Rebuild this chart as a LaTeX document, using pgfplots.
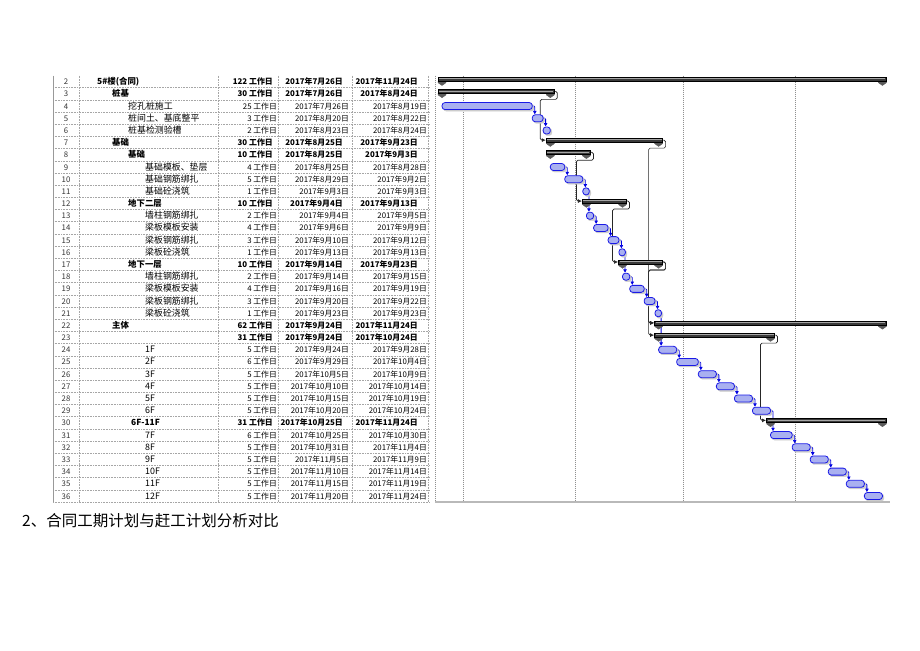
\documentclass[border=0pt]{standalone}
\usepackage{pgfplots}
\pgfplotsset{compat=1.18}
\usepackage{pgfplotstable}
\usetikzlibrary{arrows.meta}
\usepackage{fontspec}
\setmainfont{Noto Sans CJK SC}

\definecolor{taskfill}{HTML}{A9B0F0}
\definecolor{taskline}{HTML}{1A1AE6}
\definecolor{linkblue}{HTML}{0000E0}
\definecolor{sumbar}{HTML}{3A3A3A}
\definecolor{sumtri}{HTML}{5A5A5A}
\definecolor{gridgray}{HTML}{909090}

% day 0 = 2017-07-26 ; start = first day, dur = calendar days
\pgfplotstableread{
row start dur
4 0 25
5 25 3
6 28 2
9 30 4
10 34 5
11 39 1
13 40 2
14 42 4
15 46 3
16 49 1
18 50 2
19 52 4
20 56 3
21 59 1
24 60 5
25 65 6
26 71 5
27 76 5
28 81 5
29 86 5
31 91 6
32 97 5
33 102 5
34 107 5
35 112 5
36 117 5
}\tasks

\pgfplotstableread{
row start dur
2 0 122
3 0 30
7 30 30
8 30 10
12 40 10
17 50 10
22 60 62
23 60 31
30 91 31
}\summ

\def\dayw{3.6098}% bp per day

\tikzset{
  cell/.style={inner sep=0pt, yshift=-3bp},
  regtxt/.style={cell, font=\fontsize{7.8bp}{10bp}\selectfont},
  namtxt/.style={cell, font=\fontsize{8.9bp}{10bp}\selectfont},
  boldtxt/.style={cell, font=\fontsize{7.9bp}{10bp}\selectfont\bfseries},
  boldname/.style={cell, font=\fontsize{8.4bp}{10bp}\selectfont\bfseries},
}

% table rows: id, name x, name, duration, start, finish
\newcommand\trow[6]{%
  \node[regtxt, anchor=base, text=black!80] at (axis cs:66,#1) {#1};
  \node[namtxt, anchor=base west] at (axis cs:#2,#1) {#3};
  \node[regtxt, anchor=base east] at (axis cs:277,#1) {#4 工作日};
  \node[regtxt, anchor=base east] at (axis cs:349,#1) {#5};
  \node[regtxt, anchor=base east] at (axis cs:427,#1) {#6};}
\newcommand\brow[6]{%
  \node[regtxt, anchor=base, text=black!80] at (axis cs:66,#1) {#1};
  \node[boldname, anchor=base west] at (axis cs:#2,#1) {#3};
  \node[boldtxt, anchor=base east] at (axis cs:273,#1) {#4 工作日};
  \node[boldtxt, anchor=base east] at (axis cs:343,#1) {#5};
  \node[boldtxt, anchor=base east] at (axis cs:418,#1) {#6};}

% links: from row, to row, day where predecessor ends
\newcommand\blink[3]{\draw[linkblue, line width=0.8bp, rounded corners=1bp,
  -{Latex[length=3.5bp,width=4bp]}]
  (axis cs:#3,#1) -- ([xshift=2.5bp]axis cs:#3,#1) -- ([xshift=2.5bp,yshift=3.8bp]axis cs:#3,#2);}
% summary links: from row, to row, end day, start day of successor
\newcommand\slink[4]{\draw[black!85, line width=0.7bp, rounded corners=1.5bp,
  -{Latex[length=4bp,width=4bp]}]
  ([xshift=4bp,yshift=2.5bp]axis cs:#3,#1) -- ([xshift=7bp,yshift=2.5bp]axis cs:#3,#1)
  |- ([xshift=-10bp,yshift=-5.5bp]axis cs:#4,#1)
  |- ([xshift=-4.5bp,yshift=2.5bp]axis cs:#4,#2);}

\begin{document}
\begin{tikzpicture}[font=\fontsize{8bp}{10bp}\selectfont]
\path[use as bounding box] (0,0) rectangle (920bp,-651bp);

% ---------- task table ----------
\begin{axis}[
  at={(53bp,-75.6bp)}, anchor=north west,
  scale only axis, width=377bp, height=426.5bp,
  xmin=53, xmax=430, ymin=1.5, ymax=36.5, y dir=reverse,
  clip=false, axis line style={draw=none},
  xtick={79,218,278,352,428}, ytick={2.5,3.5,...,36.5},
  xticklabels={}, yticklabels={}, major tick length=0pt,
  grid=major, grid style={gridgray!80, line width=0.7bp, dash pattern=on 1bp off 0.6bp},
]
\draw[gray!80, line width=0.9bp] (axis cs:53,1.5) -- (axis cs:53,36.5);
\brow{2}{97}{5\#楼(合同)}{122}{2017年7月26日}{2017年11月24日}
\brow{3}{112}{桩基}{30}{2017年7月26日}{2017年8月24日}
\trow{4}{128}{挖孔桩施工}{25}{2017年7月26日}{2017年8月19日}
\trow{5}{128}{桩间土、基底整平}{3}{2017年8月20日}{2017年8月22日}
\trow{6}{128}{桩基检测验槽}{2}{2017年8月23日}{2017年8月24日}
\brow{7}{112}{基础}{30}{2017年8月25日}{2017年9月23日}
\brow{8}{128}{基础}{10}{2017年8月25日}{2017年9月3日}
\trow{9}{145}{基础模板、垫层}{4}{2017年8月25日}{2017年8月28日}
\trow{10}{145}{基础钢筋绑扎}{5}{2017年8月29日}{2017年9月2日}
\trow{11}{145}{基础砼浇筑}{1}{2017年9月3日}{2017年9月3日}
\brow{12}{128}{地下二层}{10}{2017年9月4日}{2017年9月13日}
\trow{13}{145}{墙柱钢筋绑扎}{2}{2017年9月4日}{2017年9月5日}
\trow{14}{145}{梁板模板安装}{4}{2017年9月6日}{2017年9月9日}
\trow{15}{145}{梁板钢筋绑扎}{3}{2017年9月10日}{2017年9月12日}
\trow{16}{145}{梁板砼浇筑}{1}{2017年9月13日}{2017年9月13日}
\brow{17}{128}{地下一层}{10}{2017年9月14日}{2017年9月23日}
\trow{18}{145}{墙柱钢筋绑扎}{2}{2017年9月14日}{2017年9月15日}
\trow{19}{145}{梁板模板安装}{4}{2017年9月16日}{2017年9月19日}
\trow{20}{145}{梁板钢筋绑扎}{3}{2017年9月20日}{2017年9月22日}
\trow{21}{145}{梁板砼浇筑}{1}{2017年9月23日}{2017年9月23日}
\brow{22}{112}{主体}{62}{2017年9月24日}{2017年11月24日}
\brow{23}{128}{}{31}{2017年9月24日}{2017年10月24日}
\trow{24}{145}{1F}{5}{2017年9月24日}{2017年9月28日}
\trow{25}{145}{2F}{6}{2017年9月29日}{2017年10月4日}
\trow{26}{145}{3F}{5}{2017年10月5日}{2017年10月9日}
\trow{27}{145}{4F}{5}{2017年10月10日}{2017年10月14日}
\trow{28}{145}{5F}{5}{2017年10月15日}{2017年10月19日}
\trow{29}{145}{6F}{5}{2017年10月20日}{2017年10月24日}
\brow{30}{131}{6F-11F}{31}{2017年10月25日}{2017年11月24日}
\trow{31}{145}{7F}{6}{2017年10月25日}{2017年10月30日}
\trow{32}{145}{8F}{5}{2017年10月31日}{2017年11月4日}
\trow{33}{145}{9F}{5}{2017年11月5日}{2017年11月9日}
\trow{34}{145}{10F}{5}{2017年11月10日}{2017年11月14日}
\trow{35}{145}{11F}{5}{2017年11月15日}{2017年11月19日}
\trow{36}{145}{12F}{5}{2017年11月20日}{2017年11月24日}
\end{axis}

% ---------- gantt ----------
\begin{axis}[
  at={(433bp,-75.6bp)}, anchor=north west,
  scale only axis, width=457bp, height=426.5bp,
  xmin=-2.5, xmax=124.1, ymin=1.5, ymax=36.5, y dir=reverse,
  clip=false, axis line style={draw=none},
  xtick={-1.94,6,37,67,98}, ytick=\empty, xticklabels={}, major tick length=0pt,
  xmajorgrids, grid style={gridgray, line width=0.9bp, dash pattern=on 1bp off 1bp},
]
\draw[gray!55, line width=1.6bp] (axis cs:-1.94,36.5) -- (axis cs:124.1,36.5);

% summary bars
\addplot[only marks, mark=*, mark size=0pt, mark options={draw=none,fill=none},
  scatter, visualization depends on={\thisrow{dur}\as\dur},
  scatter/@pre marker code/.code={%
    \pgfmathsetmacro\w{\dur*\dayw}%
    \fill[sumtri] (-4bp,0.5bp) -- (4bp,0.5bp) -- (4bp,-1bp) -- (0bp,-3.8bp) -- (-4bp,-1bp) -- cycle;
    \fill[sumtri] ({\w bp-4bp},0.5bp) -- ({\w bp+4bp},0.5bp) -- ({\w bp+4bp},-1bp)
       -- ({\w bp},-3.8bp) -- ({\w bp-4bp},-1bp) -- cycle;
    \filldraw[draw=black, fill=sumbar, line width=0.6bp] (-4bp,0.5bp) rectangle ({\w bp+4bp},4.6bp);
    \draw[gray!70, line width=0.6bp] (-3bp,3bp) -- ({\w bp+3bp},3bp);
  },
  scatter/@post marker code/.code={},
] table[x=start, y=row] {\summ};

% task bars
\addplot[only marks, mark=*, mark size=0pt, mark options={draw=none,fill=none},
  scatter, visualization depends on={\thisrow{dur}\as\dur},
  scatter/@pre marker code/.code={%
    \pgfmathsetmacro\w{max(\dur*\dayw,6.5)}%
    \fill[black!20, rounded corners=2.5bp] (1.5bp,-5bp) rectangle ({\w bp+1.5bp},2bp);
    \filldraw[draw=taskline, fill=taskfill, line width=0.8bp, rounded corners=3bp]
      (0bp,-3.5bp) rectangle ({\w bp},3.5bp);
  },
  scatter/@post marker code/.code={},
] table[x=start, y=row] {\tasks};

% task links
\blink{4}{5}{25}
\blink{5}{6}{28}
\blink{9}{10}{34}
\blink{10}{11}{39}
\blink{11}{13}{40}
\blink{13}{14}{42}
\blink{14}{15}{46}
\blink{15}{16}{49}
\blink{16}{18}{50}
\blink{18}{19}{52}
\blink{19}{20}{56}
\blink{20}{21}{59}
\blink{21}{24}{60}
\blink{24}{25}{65}
\blink{25}{26}{71}
\blink{26}{27}{76}
\blink{27}{28}{81}
\blink{28}{29}{86}
\blink{29}{31}{91}
\blink{31}{32}{97}
\blink{32}{33}{102}
\blink{33}{34}{107}
\blink{34}{35}{112}
\blink{35}{36}{117}

% summary links
\slink{3}{7}{30}{30}
\slink{8}{12}{40}{40}
\slink{12}{17}{50}{50}
\slink{7}{22}{60}{60}
\slink{17}{22}{60}{60}
\slink{17}{23}{60}{60}
\slink{23}{30}{91}{91}
\end{axis}

\node[anchor=west, inner sep=0pt, font=\fontsize{15.5bp}{18bp}\selectfont] at (22bp,-521bp)
  {2、合同工期计划与赶工计划分析对比};
\end{tikzpicture}
\end{document}
